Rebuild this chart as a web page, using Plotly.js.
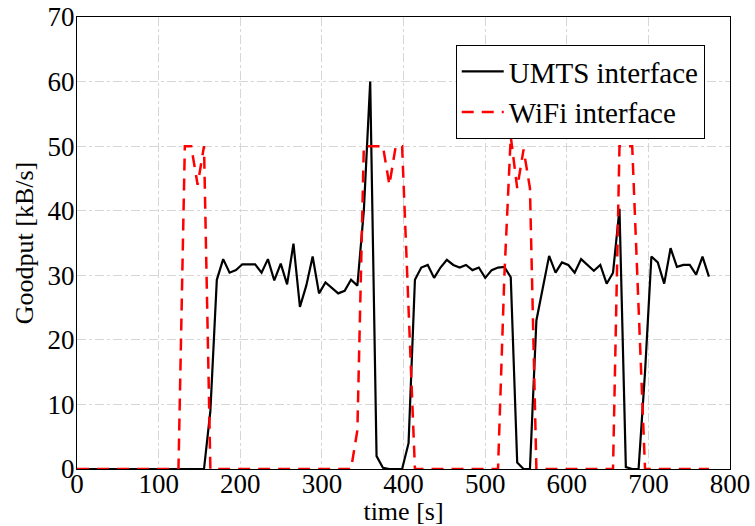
<!DOCTYPE html>
<html>
<head>
<meta charset="utf-8">
<script src="https://cdn.plot.ly/plotly-3.0.1.min.js"></script>
<style>html,body{margin:0;padding:0;background:#fff}#chart{width:755px;height:526px}</style>
</head>
<body>
<div id="chart"></div>
<script>
// sample times [s]
var time = [0, 6.8, 14.7, 22.5, 30.3, 38.2, 46.0, 53.8, 61.6, 69.5,
  77.3, 85.1, 93.0, 100.8, 108.6, 116.5, 124.3, 132.1, 139.9, 147.8,
  155.6, 163.4, 171.3, 179.1, 186.9, 194.8, 202.6, 210.4, 218.2, 226.1,
  233.9, 241.7, 249.6, 257.4, 265.2, 273.1, 280.9, 288.7, 296.5, 304.4,
  312.2, 320.0, 327.9, 335.7, 343.5, 351.4, 359.2, 367.0, 374.8, 382.7,
  390.5, 398.3, 406.2, 414.0, 421.8, 429.7, 437.5, 445.3, 453.1, 461.0,
  468.8, 476.6, 484.5, 492.3, 500.1, 508.0, 515.8, 523.6, 531.4, 539.3,
  547.1, 554.9, 562.8, 570.6, 578.4, 586.3, 594.1, 601.9, 609.7, 617.6,
  625.4, 633.2, 641.1, 648.9, 656.7, 664.6, 672.4, 680.2, 688.0, 695.9,
  703.7, 711.5, 719.4, 727.2, 735.0, 742.9, 750.7, 758.5, 766.3, 774.2];

// UMTS interface goodput [kB/s]
var umts = [0, 0, 0, 0, 0, 0, 0, 0, 0, 0,
  0, 0, 0, 0, 0, 0, 0, 0, 0, 0,
  0, 9, 29.3, 32.5, 30.4, 30.8, 31.7, 31.7, 31.7, 30.4,
  32.5, 29.2, 31.8, 28.6, 34.9, 25.1, 28.4, 32.9, 27.2, 28.9,
  28.0, 27.2, 27.6, 29.3, 28.4, 40, 60, 2, 0.2, 0,
  0, 0, 4, 29.3, 31.2, 31.6, 29.6, 31.2, 32.4, 31.6,
  31.2, 31.6, 30.8, 31.2, 29.6, 30.8, 31.2, 31.3, 29.7, 1,
  0, 0, 23, 28, 33, 30.4, 32, 31.6, 30.4, 32.5,
  31.6, 30.7, 31.6, 28.7, 30.4, 40.3, 0.3, 0, 0, 15,
  32.9, 32, 28.7, 34.2, 31.3, 31.6, 31.6, 30.1, 32.9, 29.8];

// WiFi interface goodput [kB/s]
var wifi = [0, 0, 0, 0, 0, 0, 0, 0, 0, 0,
  0, 0, 0, 0, 0, 0, 0, 50, 50, 44,
  50, 0, 0, 0, 0, 0, 0, 0, 0, 0,
  0, 0, 0, 0, 0, 0, 0, 0, 0, 0,
  0, 0, 0, 0, 6, 50, 50, 50, 50, 44,
  50, 50, 25, 0, 0, 0, 0, 0, 0, 0,
  0, 0, 0, 0, 0, 0, 0, 30, 51.5, 43.5,
  49.5, 43.5, 0, 0, 0, 0, 0, 0, 0, 0,
  0, 0, 0, 0, 0, 50, 50, 50, 25, 0,
  0, 0, 0, 0, 0, 0, 0, 0, 0, 0];

var seriesNames = ['UMTS interface', 'WiFi interface'];
var xTicks = [0, 100, 200, 300, 400, 500, 600, 700, 800];
var yTicks = [0, 10, 20, 30, 40, 50, 60, 70];

var FONT = 'Liberation Serif, Times New Roman, serif';

var traces = [
  {x: time, y: umts, name: seriesNames[0], type: 'scatter', mode: 'lines',
   line: {color: '#000000', width: 2.2}},
  {x: time, y: wifi, name: seriesNames[1], type: 'scatter', mode: 'lines',
   line: {color: '#ff0000', width: 2.5, dash: '12px,8px'}}
];

var axisCommon = {
  showline: true, linecolor: '#000', linewidth: 1.2, mirror: true,
  showgrid: true, gridcolor: '#d6d6d6', gridwidth: 1, griddash: 'dashdot',
  zeroline: false, ticks: '', tickfont: {family: FONT, size: 27, color: '#000'},
  tickmode: 'array', automargin: false
};

var layout = {
  width: 755, height: 526,
  margin: {l: 77, r: 25, t: 17, b: 57},
  paper_bgcolor: '#fff', plot_bgcolor: '#fff',
  font: {family: FONT, color: '#000'},
  showlegend: true,
  xaxis: Object.assign({}, axisCommon, {
    range: [0, 800], tickvals: xTicks, ticktext: xTicks.map(String),
    ticklabelstandoff: -10,
    title: {text: 'time [s]', font: {family: FONT, size: 26, color: '#000'}, standoff: 9}
  }),
  yaxis: Object.assign({}, axisCommon, {
    range: [0, 70], tickvals: yTicks, ticktext: yTicks.map(String),
    ticklabelstandoff: -4,
    title: {text: 'Goodput [kB/s]', font: {family: FONT, size: 26, color: '#000'}, standoff: 6}
  }),
  legend: {
    x: 0.58, y: 0.938, xanchor: 'left', yanchor: 'top',
    bgcolor: '#fff', bordercolor: '#000', borderwidth: 1,
    font: {family: FONT, size: 29, color: '#000'},
    itemwidth: 42, tracegroupgap: 0
  }
};

Plotly.newPlot('chart', traces, layout, {displayModeBar: false, staticPlot: true});
</script>
</body>
</html>
